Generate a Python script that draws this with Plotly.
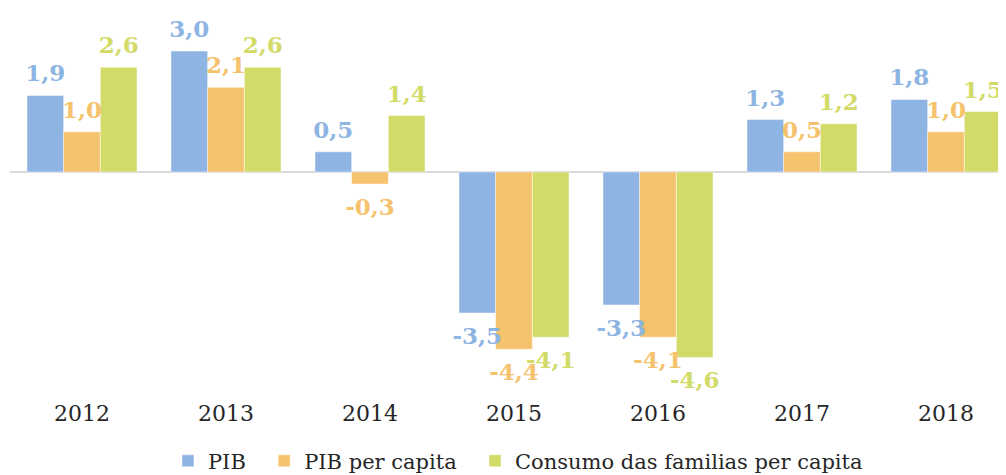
import plotly.graph_objects as go

years = ["2012", "2013", "2014", "2015", "2016", "2017", "2018"]
pib = [1.9, 3.0, 0.5, -3.5, -3.3, 1.3, 1.8]
pib_pc = [1.0, 2.1, -0.3, -4.4, -4.1, 0.5, 1.0]
consumo_pc = [2.6, 2.6, 1.4, -4.1, -4.6, 1.2, 1.5]

series = [
    ("PIB", pib, "#8DB4E2"),
    ("PIB per capita", pib_pc, "#F5C26E"),
    ("Consumo das familias per capita", consumo_pc, "#D2DB67"),
]

FONT = "DejaVu Serif"
GAP = 0.236
BW = (1 - GAP) / 3
OFFSETS = [-1.5 * BW, -0.5 * BW, 0.5 * BW]
NBSP = "\u00a0"

# page body has an 8px offset; layout below is in figure coordinates
zero_px = 164
plot_bottom = 390
ppu = 40.3
y_top = zero_px / ppu
y_bot = -(plot_bottom - zero_px) / ppu
label_pad = 6 / ppu  # extra pixel gap between bar end and its label


def fmt(v):
    return f"{v:.1f}".replace(".", ",")


fig = go.Figure()
# bars
for i, ((name, vals, color), off) in enumerate(zip(series, OFFSETS)):
    legend_name = name + (NBSP * 2 if i < len(series) - 1 else "")
    fig.add_trace(go.Bar(
        x=years, y=vals, name=legend_name, width=BW, offset=off,
        marker=dict(color=color, line=dict(color="rgba(255,255,255,0.6)", width=0.8)),
        hoverinfo="skip",
    ))
# labels drawn on top of all bars (transparent bars, shifted slightly outward)
for (name, vals, color), off in zip(series, OFFSETS):
    fig.add_trace(go.Bar(
        x=years, y=vals, base=[label_pad if v >= 0 else -label_pad for v in vals],
        name=name, width=BW, offset=off, showlegend=False,
        marker=dict(color="rgba(0,0,0,0)", line=dict(width=0)),
        text=[fmt(v) for v in vals],
        textposition="outside",
        constraintext="none",
        cliponaxis=True,
        textfont=dict(family=FONT, size=23, color=color, weight="bold"),
        hoverinfo="skip",
    ))

fig.update_layout(
    width=1006, height=475,
    margin=dict(l=2, r=8, t=0, b=475 - plot_bottom),
    plot_bgcolor="white", paper_bgcolor="white",
    barmode="overlay",
    showlegend=True,
    legend=dict(orientation="h", x=0.510, xanchor="center",
                yref="container", y=0.046, yanchor="middle",
                font=dict(family=FONT, size=21, color="#262626"),
                itemclick=False, traceorder="normal"),
    xaxis=dict(range=[-0.5, 6.5 - 12 / 144], showgrid=False, showline=False, ticks="",
               tickfont=dict(family=FONT, size=22, color="#262626"), fixedrange=True),
    yaxis=dict(range=[y_bot, y_top], showgrid=False, showticklabels=False,
               zeroline=True, zerolinecolor="#D9D9D9", zerolinewidth=2, fixedrange=True),
)

fig.write_html("out.html")
